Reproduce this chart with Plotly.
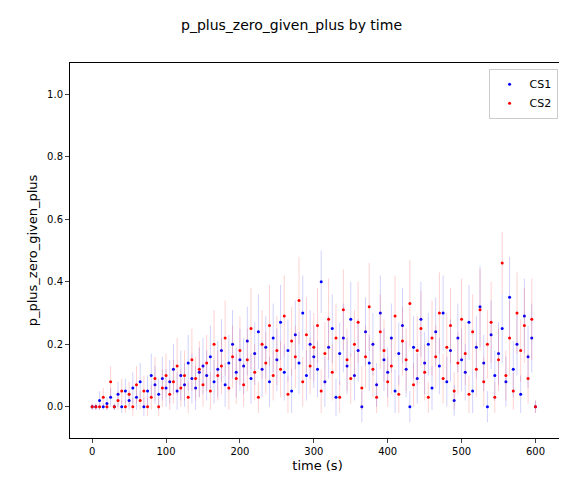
import plotly.graph_objects as go

time_s = list(range(0, 605, 5))

cs1 = [0, 0, 0.02, 0, 0.01, 0.03, 0, 0.04, 0, 0.05, 0.02,
       0.06, 0.03, 0.08, 0, 0.05, 0.1, 0.07, 0.04, 0.09, 0.06,
       0.08, 0.12, 0.05, 0.1, 0.07, 0.14, 0.09, 0.06, 0.11, 0.13,
       0.1, 0.16, 0.08, 0.12, 0.18, 0.07, 0.14, 0.2, 0.11, 0.15,
       0.13, 0.21, 0.09, 0.17, 0.24, 0.12, 0.19, 0.08, 0.22, 0.15,
       0.27, 0.11, 0.18, 0.05, 0.23, 0.14, 0.3, 0.1, 0.2, 0.16,
       0.12, 0.4, 0.08, 0.19, 0.25, 0.03, 0.17, 0.22, 0.13, 0.28,
       0.1, 0.18, 0, 0.24, 0.14, 0.2, 0.07, 0.3, 0.15, 0.11,
       0.22, 0.05, 0.17, 0.26, 0.12, 0, 0.19, 0.09, 0.28, 0.14,
       0.2, 0.06, 0.24, 0.13, 0.3, 0.08, 0.18, 0.02, 0.22, 0.15,
       0.11, 0.27, 0.05, 0.19, 0.32, 0.14, 0, 0.23, 0.1, 0.17,
       0.25, 0.08, 0.35, 0.12, 0.2, 0.04, 0.29, 0.16, 0.22, 0]

cs2 = [0, 0, 0, 0.03, 0, 0.08, 0, 0.02, 0.05, 0, 0.04,
       0, 0.07, 0.02, 0.05, 0, 0.03, 0.09, 0, 0.06, 0.1,
       0.04, 0.08, 0.13, 0.06, 0.1, 0.03, 0.15, 0.09, 0.12, 0.07,
       0.14, 0.05, 0.2, 0.1, 0.13, 0.22, 0.06, 0.16, 0.09, 0.18,
       0.07, 0.15, 0.25, 0.11, 0.03, 0.2, 0.14, 0.26, 0.1, 0.18,
       0.12, 0.29, 0.04, 0.21, 0.16, 0.34, 0.08, 0.23, 0.13, 0.19,
       0.26, 0.05, 0.17, 0.28, 0.11, 0.22, 0.03, 0.31, 0.15, 0.09,
       0.2, 0.27, 0.06, 0.16, 0.32, 0.12, 0.03, 0.24, 0.18, 0.08,
       0.13, 0.29, 0.04, 0.21, 0.15, 0.33, 0.07, 0.18, 0.25, 0.11,
       0.03, 0.22, 0.16, 0.3, 0.09, 0.19, 0.26, 0.05, 0.14, 0.28,
       0.17, 0.04, 0.24, 0.12, 0.31, 0.08, 0.2, 0.27, 0.03, 0.15,
       0.46, 0.1, 0.22, 0.05, 0.3, 0.18, 0.26, 0.09, 0.28, 0]

cs1_err = [0.01, 0.01, 0.03, 0.01, 0.02, 0.03, 0.01, 0.04, 0.02, 0.04, 0.03,
           0.05, 0.04, 0.06, 0.03, 0.05, 0.07, 0.06, 0.05, 0.07, 0.06,
           0.07, 0.08, 0.06, 0.08, 0.07, 0.09, 0.08, 0.07, 0.08, 0.09,
           0.08, 0.1, 0.07, 0.09, 0.1, 0.07, 0.09, 0.11, 0.08, 0.1,
           0.09, 0.11, 0.08, 0.1, 0.12, 0.09, 0.1, 0.08, 0.11, 0.1,
           0.12, 0.09, 0.1, 0.07, 0.11, 0.1, 0.12, 0.08, 0.11, 0.1,
           0.09, 0.1, 0.08, 0.1, 0.11, 0.06, 0.1, 0.11, 0.09, 0.12,
           0.08, 0.1, 0.05, 0.11, 0.09, 0.1, 0.07, 0.12, 0.1, 0.08,
           0.11, 0.07, 0.1, 0.12, 0.09, 0.05, 0.1, 0.08, 0.12, 0.1,
           0.1, 0.07, 0.11, 0.09, 0.12, 0.08, 0.1, 0.05, 0.11, 0.1,
           0.09, 0.12, 0.07, 0.1, 0.13, 0.09, 0.05, 0.11, 0.08, 0.1,
           0.11, 0.08, 0.13, 0.09, 0.1, 0.06, 0.12, 0.1, 0.11, 0.02]

cs2_err = [0.01, 0.01, 0.01, 0.03, 0.01, 0.05, 0.01, 0.03, 0.04, 0.02, 0.04,
           0.03, 0.06, 0.03, 0.05, 0.03, 0.04, 0.07, 0.03, 0.06, 0.07,
           0.05, 0.07, 0.09, 0.06, 0.08, 0.05, 0.1, 0.07, 0.09, 0.07,
           0.09, 0.06, 0.11, 0.08, 0.09, 0.12, 0.07, 0.1, 0.08, 0.11,
           0.07, 0.1, 0.13, 0.09, 0.05, 0.11, 0.1, 0.13, 0.08, 0.11,
           0.09, 0.13, 0.06, 0.11, 0.1, 0.14, 0.08, 0.12, 0.09, 0.11,
           0.12, 0.07, 0.1, 0.13, 0.09, 0.11, 0.05, 0.13, 0.1, 0.08,
           0.11, 0.13, 0.07, 0.1, 0.14, 0.09, 0.05, 0.12, 0.1, 0.08,
           0.09, 0.13, 0.06, 0.11, 0.1, 0.14, 0.07, 0.11, 0.12, 0.09,
           0.05, 0.12, 0.1, 0.13, 0.08, 0.11, 0.12, 0.06, 0.1, 0.13,
           0.1, 0.06, 0.12, 0.09, 0.13, 0.08, 0.11, 0.13, 0.05, 0.1,
           0.1, 0.08, 0.12, 0.06, 0.13, 0.1, 0.12, 0.08, 0.13, 0.02]

fig = go.Figure()
for name, vals, err, col, light in [
    ("CS1", cs1, cs1_err, "blue", "rgba(0,0,255,0.3)"),
    ("CS2", cs2, cs2_err, "red", "rgba(255,0,0,0.3)"),
]:
    fig.add_trace(go.Scatter(
        x=time_s, y=vals, mode="markers", name=name,
        marker=dict(color=col, size=3),
        error_y=dict(type="data", array=err, color=light, thickness=0.6, width=0),
    ))

fig.update_layout(
    width=567, height=480,
    title=dict(text="p_plus_zero_given_plus by time", x=0.5, xanchor="center",
               y=0.965, yanchor="middle", font=dict(size=14, color="black")),
    font=dict(family="DejaVu Sans", size=11, color="black"),
    plot_bgcolor="white", paper_bgcolor="white",
    margin=dict(l=62, r=10, t=55, b=50),
    showlegend=True,
    legend=dict(x=0.985, y=0.985, xanchor="right", yanchor="top",
                bordercolor="#cccccc", borderwidth=1, bgcolor="white",
                font=dict(size=11)),
)
axis_style = dict(showgrid=False, zeroline=False, showline=True, mirror=True,
                  linecolor="black", linewidth=1, ticks="outside", ticklen=4,
                  tickfont=dict(size=10))
fig.update_xaxes(title_text="time (s)", title_standoff=4, range=[-30, 640],
                 tickvals=[0, 100, 200, 300, 400, 500, 600], **axis_style)
fig.update_yaxes(title_text="p_plus_zero_given_plus", title_standoff=6, range=[-0.1, 1.1],
                 tickvals=[0, 0.2, 0.4, 0.6, 0.8, 1.0], tickformat=".1f", **axis_style)

fig.write_html("out.html")
